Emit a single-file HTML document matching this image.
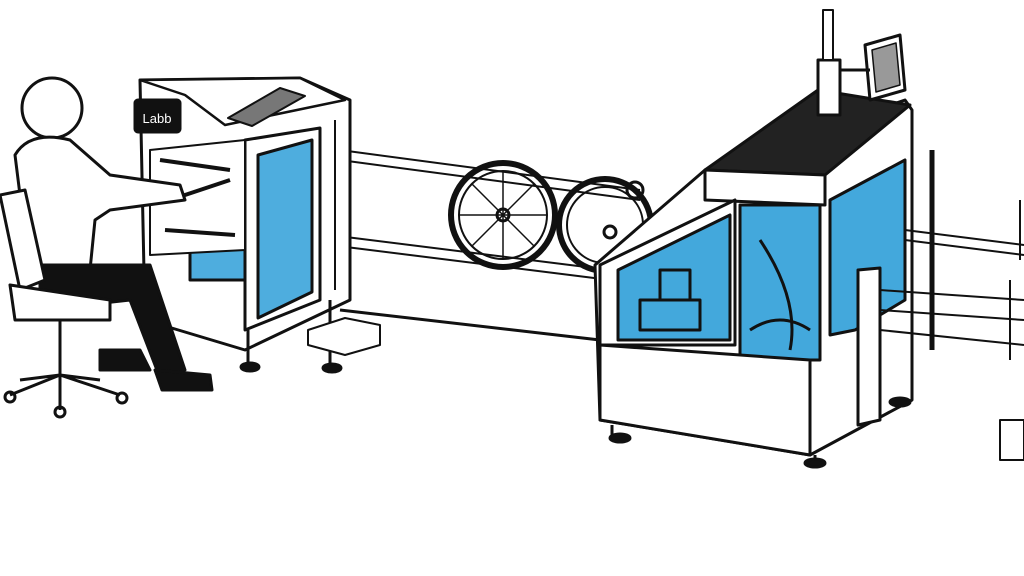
<!DOCTYPE html>
<html><head><meta charset="utf-8"><style>
html,body{margin:0;padding:0;background:#fff;width:1024px;height:576px;overflow:hidden}
svg{display:block}
text{font-family:"Liberation Sans",sans-serif}
</style></head><body>
<svg width="1024" height="576" viewBox="0 0 1024 576" xmlns="http://www.w3.org/2000/svg">
<g stroke="#111" stroke-width="3" stroke-linejoin="round" fill="none">
<!-- rails between machines -->
<line x1="340" y1="150" x2="640" y2="190" stroke-width="2"/>
<line x1="340" y1="160" x2="640" y2="200" stroke-width="2"/>
<line x1="330" y1="235" x2="610" y2="270" stroke-width="2"/>
<line x1="330" y1="245" x2="610" y2="280" stroke-width="2"/>
<line x1="340" y1="310" x2="600" y2="340" stroke-width="3"/>
<!-- left machine -->
<polygon points="140,80 300,78 350,100 350,300 245,350 145,320" fill="#fff"/>
<polygon points="140,80 300,78 345,100 225,125 185,95" fill="#fff" stroke-width="2.5"/>
<polygon points="228,118 280,88 305,96 252,126" fill="#777" stroke-width="2"/>
<polygon points="245,140 320,128 320,300 245,330" fill="#fff"/>
<polygon points="258,155 312,140 312,292 258,318" fill="#2f9fd8" fill-opacity="0.85"/>
<rect x="190" y="200" width="55" height="80" fill="#2f9fd8" fill-opacity="0.85"/>
<polygon points="150,150 245,140 245,250 150,255" fill="#fff" stroke-width="2"/>
<path d="M160 160 l70 10 M170 200 l60 -20 M165 230 l70 5" stroke-width="4"/>
<rect x="135" y="100" width="45" height="32" rx="3" fill="#111"/>
<text x="157" y="123" fill="#fff" stroke="none" font-size="13" text-anchor="middle">Labb</text>
<line x1="248" y1="330" x2="248" y2="365"/><ellipse cx="250" cy="367" rx="9" ry="4" fill="#111"/>
<line x1="330" y1="300" x2="330" y2="365"/><ellipse cx="332" cy="368" rx="9" ry="4" fill="#111"/>
<polygon points="308,330 345,318 380,325 380,345 345,355 308,345" fill="#fff" stroke-width="2"/>
<line x1="335" y1="120" x2="335" y2="290" stroke-width="2"/>
<!-- person -->
<circle cx="52" cy="108" r="30" fill="#fff"/>
<path d="M15 155 Q30 130 70 140 L110 175 L180 185 L185 200 L110 210 L95 220 L90 270 L30 275 Z" fill="#fff"/>
<path d="M40 265 L150 265 L185 370 L160 378 L130 300 L40 310 Z" fill="#111"/>
<path d="M155 370 l55 5 l2 15 l-50 0 Z" fill="#111"/>
<path d="M100 350 l40 0 l10 20 l-50 0 Z" fill="#111"/>
<path d="M0 195 L25 190 L45 280 L20 290 Z" fill="#fff"/>
<path d="M10 285 L110 300 L110 320 L15 320 Z" fill="#fff"/>
<line x1="60" y1="320" x2="60" y2="375"/>
<path d="M10 395 L60 375 L120 395 M60 375 L60 410 M60 375 L20 380 M60 375 L100 380"/>
<circle cx="10" cy="397" r="5"/><circle cx="122" cy="398" r="5"/><circle cx="60" cy="412" r="5"/>
<!-- wheels -->
<circle cx="503" cy="215" r="52" stroke-width="6"/>
<circle cx="503" cy="215" r="44" stroke-width="2"/>
<circle cx="503" cy="215" r="6"/>
<path d="M503 171 V259 M459 215 H547 M472 184 L534 246 M534 184 L472 246" stroke-width="1.5"/>
<circle cx="605" cy="225" r="46" stroke-width="6"/>
<circle cx="605" cy="225" r="38" stroke-width="2"/>
<circle cx="610" cy="232" r="6"/>
<circle cx="635" cy="190" r="8"/>
<!-- right machine -->
<polygon points="595,265 705,170 905,100 912,110 912,400 810,455 600,420" fill="#fff"/>
<polygon points="705,170 818,90 910,105 825,175" fill="#222"/>
<polygon points="705,170 825,175 825,205 705,200" fill="#fff"/>
<polygon points="600,265 735,200 735,345 600,345" fill="#fff"/>
<polygon points="618,270 730,215 730,340 618,340" fill="#2f9fd8" fill-opacity="0.9"/>
<rect x="740" y="205" width="80" height="155" fill="#2f9fd8" fill-opacity="0.9"/>
<polygon points="830,200 905,160 905,300 855,330 830,335" fill="#2f9fd8" fill-opacity="0.9"/>
<path d="M640 300 h60 v30 h-60z M660 270 h30 v30 h-30z M760 240 q40 60 30 110 M750 330 q30 -20 60 0" stroke-width="3"/>
<polygon points="600,345 810,360 810,455 600,420" fill="#fff"/>
<polygon points="858,270 880,268 880,420 858,425" fill="#fff"/>
<line x1="612" y1="425" x2="612" y2="437"/><ellipse cx="620" cy="438" rx="10" ry="4" fill="#111"/>
<line x1="815" y1="455" x2="815" y2="462"/><ellipse cx="815" cy="463" rx="10" ry="4" fill="#111"/>
<ellipse cx="900" cy="402" rx="10" ry="4" fill="#111"/>
<rect x="818" y="60" width="22" height="55" fill="#fff"/>
<rect x="823" y="10" width="10" height="50" fill="#fff" stroke-width="2"/>
<polygon points="865,45 900,35 905,90 870,100" fill="#fff"/>
<polygon points="872,50 896,43 900,85 876,92" fill="#999" stroke-width="1.5"/>
<line x1="840" y1="70" x2="870" y2="70"/>
<!-- right partial machine -->
<line x1="932" y1="150" x2="932" y2="350" stroke-width="5"/>
<path d="M880 290 L1024 300 M880 310 L1024 320 M905 230 L1024 245 M905 240 L1024 255 M880 330 L1024 345" stroke-width="2"/>
<path d="M1020 200 v60 M1010 280 v80 M1000 420 h24 v40 h-24z" stroke-width="2"/>
</g>
</svg>
</body></html>
